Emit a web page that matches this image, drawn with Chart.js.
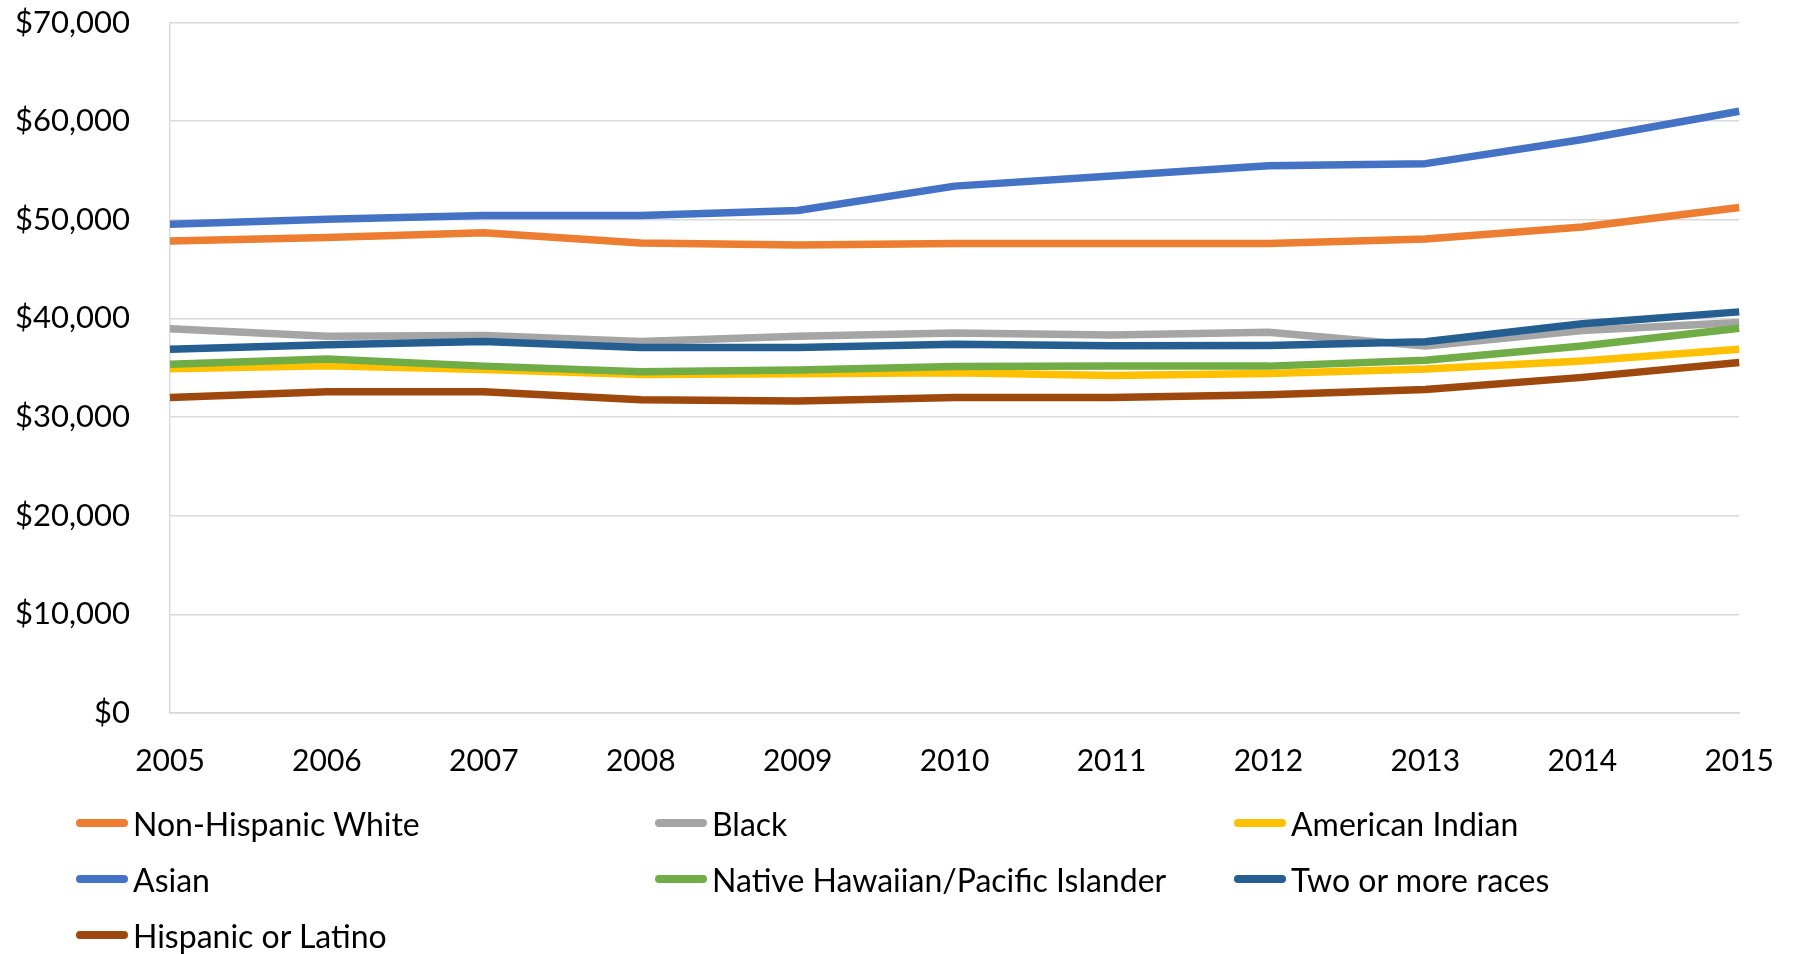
<!DOCTYPE html>
<html>
<head>
<meta charset="utf-8">
<script src="https://cdn.jsdelivr.net/npm/chart.js@4.4.1/dist/chart.umd.min.js"></script>
<style>
  html, body { margin: 0; padding: 0; background: #fff; overflow: hidden; }
  #wrap { position: relative; width: 1795px; height: 954px; overflow: hidden; }
  #chart { position: absolute; left: 0; top: -36px; }
  #legend {
    position: absolute; left: 76px; top: 795px;
    display: grid; grid-template-columns: 579px 579px 579px; grid-auto-rows: 56px;
    font-family: Lato, sans-serif; font-size: 32px; color: #000;
  }
  .item { display: flex; align-items: center; white-space: nowrap; }
  .swatch { display: inline-block; width: 52px; height: 8px; border-radius: 4px; margin-right: 5px; }
</style>
</head>
<body>
<div id="wrap">
  <canvas id="chart" width="1804" height="990"></canvas>
  <div id="legend"></div>
</div>
<script>
const years = ["2005","2006","2007","2008","2009","2010","2011","2012","2013","2014","2015"];

const seriesNames = [
  "Non-Hispanic White", "Black", "American Indian", "Asian",
  "Native Hawaiian/Pacific Islander", "Two or more races", "Hispanic or Latino"
];
const seriesColors = ["#ED7D31", "#A5A5A5", "#FFC000", "#4472C4", "#70AD47", "#255E91", "#9E480E"];

const white    = [47850, 48200, 48700, 47650, 47450, 47600, 47600, 47600, 48050, 49280, 51260];
const black    = [38950, 38200, 38270, 37670, 38200, 38530, 38330, 38600, 37210, 38790, 39600];
const amIndian = [34900, 35200, 34830, 34330, 34400, 34500, 34230, 34430, 34870, 35700, 36880];
const asian    = [49550, 50050, 50430, 50430, 50950, 53420, 54450, 55480, 55700, 58150, 61010];
const nhpi     = [35370, 35900, 35170, 34600, 34770, 35130, 35170, 35170, 35770, 37210, 39000];
const twoPlus  = [36870, 37330, 37670, 37070, 37070, 37400, 37230, 37270, 37650, 39460, 40670];
const hispanic = [32000, 32570, 32570, 31770, 31630, 32000, 32000, 32270, 32790, 34030, 35540];

const seriesData = [white, black, amIndian, asian, nhpi, twoPlus, hispanic];

const yMin = 0, yMax = 70000, yStep = 10000;
const money = v => "$" + v.toLocaleString("en-US");
const FONT = "Lato, sans-serif";

const ctx = document.getElementById("chart").getContext("2d");
new Chart(ctx, {
  type: "line",
  data: {
    labels: years,
    datasets: seriesData.map((d, i) => ({
      label: seriesNames[i],
      data: d,
      borderColor: seriesColors[i],
      backgroundColor: seriesColors[i],
      borderWidth: 7.5,
      borderJoinStyle: "round",
      pointRadius: 0,
      tension: 0,
      order: seriesData.length - i,   // later series drawn on top, like Excel
    }))
  },
  options: {
    responsive: false,
    animation: false,
    layout: { padding: { left: 0, top: 21, right: 56, bottom: 171 } },
    plugins: { legend: { display: false }, tooltip: { enabled: false } },
    scales: {
      x: {
        offset: false,
        grid: { display: false, drawTicks: false },
        border: { display: true, color: "#D9D9D9", width: 1.5 },
        ticks: { color: "#000", font: { family: FONT, size: 30 }, padding: 30, maxRotation: 0, autoSkip: false },
        afterFit: s => { s.height = 70; }
      },
      y: {
        min: yMin, max: yMax,
        grid: { color: "#D9D9D9", lineWidth: 1.5, drawTicks: false },
        border: { display: true, color: "#D9D9D9", width: 1.5 },
        ticks: { stepSize: yStep, color: "#000", font: { family: FONT, size: 31 }, padding: 40, callback: v => money(v) },
        afterFit: s => { s.width = 170; }
      }
    }
  }
});

const legend = document.getElementById("legend");
seriesNames.forEach((name, i) => {
  const item = document.createElement("div");
  item.className = "item";
  item.innerHTML = `<span class="swatch" style="background:${seriesColors[i]}"></span>${name}`;
  legend.appendChild(item);
});
</script>
</body>
</html>
